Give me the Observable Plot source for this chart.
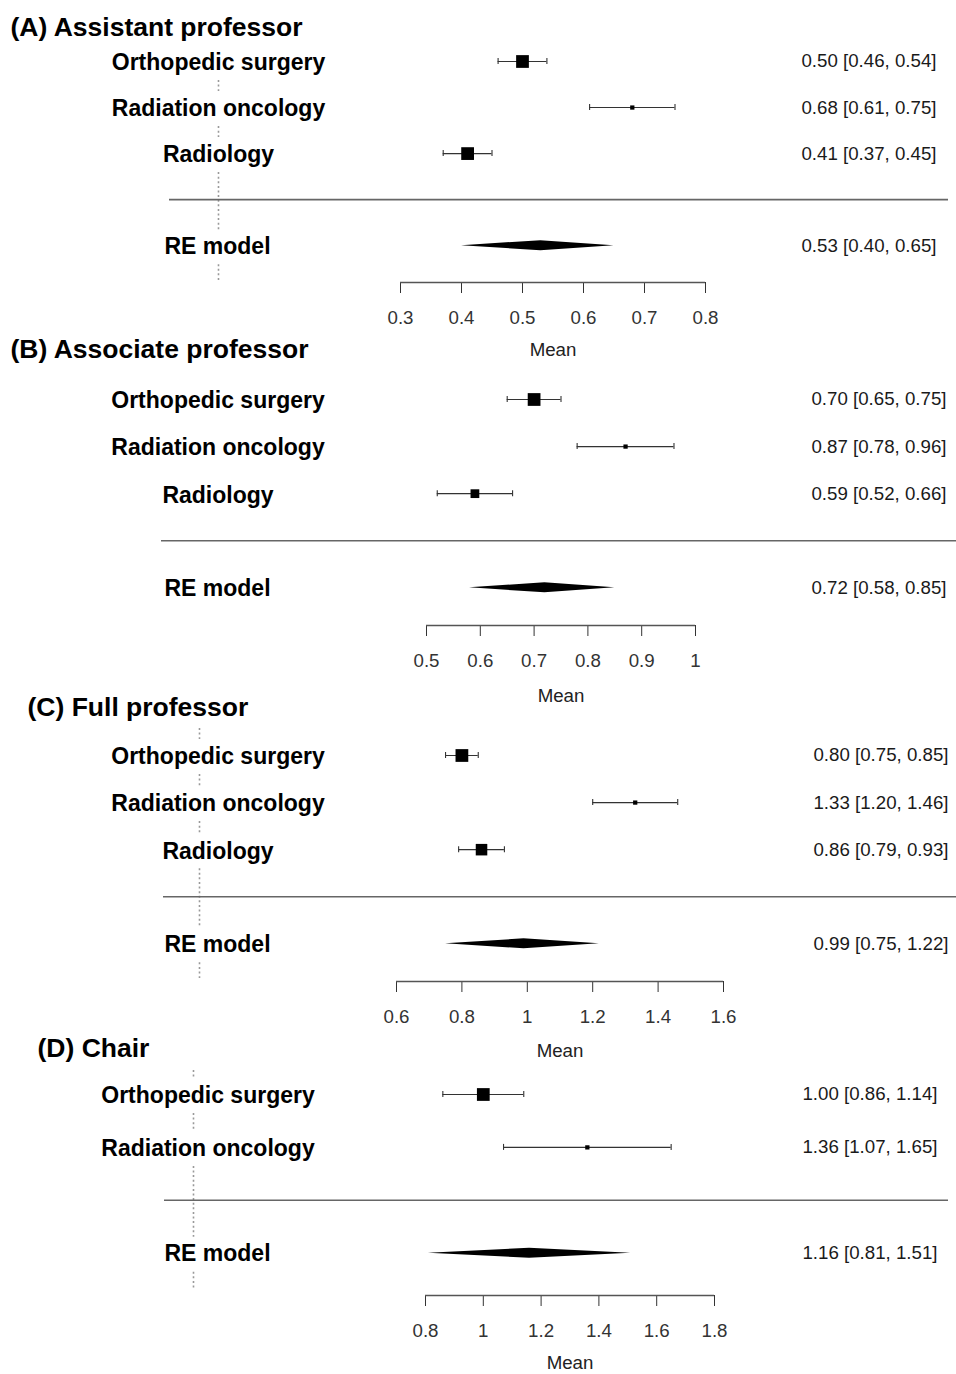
<!DOCTYPE html>
<html>
<head>
<meta charset="utf-8">
<script src="https://cdn.jsdelivr.net/npm/d3@7"></script>
<script src="https://cdn.jsdelivr.net/npm/@observablehq/plot@0.6"></script>
<style>
  html, body { margin: 0; padding: 0; background: #fff; overflow: hidden; }
  #chart { position: relative; width: 956px; height: 1374px; }
  #chart svg { position: absolute; left: 0; }
</style>
</head>
<body>
<div id="chart"></div>
<script>
// ---------- DATA ----------
const panelTitles = ["(A) Assistant professor", "(B) Associate professor", "(C) Full professor", "(D) Chair"];
const studiesABC = ["Orthopedic surgery", "Radiation oncology", "Radiology"];
const studiesD = ["Orthopedic surgery", "Radiation oncology"];
const summaryLabel = "RE model";
const axisLabel = "Mean";

const meanA = [0.50, 0.68, 0.41], lowerA = [0.46, 0.61, 0.37], upperA = [0.54, 0.75, 0.45];
const meanB = [0.70, 0.87, 0.59], lowerB = [0.65, 0.78, 0.52], upperB = [0.75, 0.96, 0.66];
const meanC = [0.80, 1.33, 0.86], lowerC = [0.75, 1.20, 0.79], upperC = [0.85, 1.46, 0.93];
const meanD = [1.00, 1.36],       lowerD = [0.86, 1.07],       upperD = [1.14, 1.65];

// random-effects study weights (%), estimated
const weightA = [34.0, 32.0, 34.0];
const weightB = [35.0, 31.6, 33.4];
const weightC = [34.4, 31.6, 34.0];
const weightD = [56.6, 43.4];

const reMean  = [0.53, 0.72, 0.99, 1.16];
const reLower = [0.40, 0.58, 0.75, 0.81];
const reUpper = [0.65, 0.85, 1.22, 1.51];

const ticksA = [0.3, 0.4, 0.5, 0.6, 0.7, 0.8];
const ticksB = [0.5, 0.6, 0.7, 0.8, 0.9, 1];
const ticksC = [0.6, 0.8, 1, 1.2, 1.4, 1.6];
const ticksD = [0.8, 1, 1.2, 1.4, 1.6, 1.8];

// ---------- LAYOUT (page pixels) ----------
const W = 956;
const layout = [
  {top: 0,    height: 366, titleX: 10, titleY: 27,   rowTopY: 61,   axisY: 282,  meanY: 350,  xLeft: 400, xRight: 705, labelX: 218,   reLabelX: 217, valueX: 936, sepX1: 169, sepX2: 948, dotX: 218, dotY1: 75,   dotY2: 280},
  {top: 330,  height: 380, titleX: 10, titleY: 349,  rowTopY: 399,  axisY: 625,  meanY: 696,  xLeft: 426, xRight: 695, labelX: 217.5, reLabelX: 217, valueX: 946, sepX1: 161, sepX2: 956, dotX: null},
  {top: 690,  height: 372, titleX: 27, titleY: 707,  rowTopY: 755,  axisY: 981,  meanY: 1051, xLeft: 396, xRight: 723, labelX: 217.5, reLabelX: 217, valueX: 948, sepX1: 163, sepX2: 956, dotX: 199, dotY1: 728,  dotY2: 978},
  {top: 1030, height: 344, titleX: 37, titleY: 1048, rowTopY: 1094, axisY: 1295, meanY: 1363, xLeft: 425, xRight: 714, labelX: 207.5, reLabelX: 217, valueX: 937, sepX1: 164, sepX2: 948, dotX: 193, dotY1: 1070, dotY2: 1290}
];

const FONT = "'Liberation Sans', Arial, Helvetica, sans-serif";
const fmt = d3.format(".2f");

function panel(i, studies, mean, lower, upper, weight, ticks) {
  const L = layout[i];
  const k = studies.length;
  const wMin = d3.min(weight), wMax = d3.max(weight);
  const rows = studies.map((s, j) => ({
    study: s, row: k - j, mean: mean[j], lower: lower[j], upper: upper[j],
    psize: 0.5 + (weight[j] - wMin) / (wMax - wMin)   // metafor-style box scaling
  }));
  const re = {row: -1, mean: reMean[i], lower: reLower[i], upper: reUpper[i]};
  const axisRow = -1.8;
  const rowPx = (L.axisY - L.rowTopY) / (k - axisRow);
  const pxToRow = py => k - (py - L.rowTopY) / rowPx;
  const dh = 5 / rowPx;
  const diamond = [
    {x: re.lower, y1: re.row, y2: re.row},
    {x: re.mean, y1: re.row - dh, y2: re.row + dh},
    {x: re.upper, y1: re.row, y2: re.row}
  ];
  const lo = ticks[0], hi = ticks[ticks.length - 1];
  const boxSide = 8.5;

  const marks = [];
  if (L.dotX != null) {
    // dotted reference line, interrupted where the row labels sit
    const labelRows = [...rows.map(d => d.row), re.row].sort((a, b) => b - a);
    const gaps = labelRows.map(r => [r + 16 / rowPx, r - 19 / rowPx]); // [upper, lower] in row units
    const segs = [];
    let cur = pxToRow(L.dotY1);
    const end = pxToRow(L.dotY2);
    for (const [gTop, gBot] of gaps) {
      if (gTop < cur) { if (gTop > end) segs.push({y1: cur, y2: Math.max(gTop, end)}); }
      cur = Math.min(cur, gBot);
    }
    if (cur > end) segs.push({y1: cur, y2: end});
    marks.push(Plot.ruleX(segs, {
      x: () => lo, dx: L.dotX - L.xLeft, y1: "y1", y2: "y2",
      stroke: "#999", strokeWidth: 1.6, strokeDasharray: "2,2.6"
    }));
  }
  marks.push(
    // separator
    Plot.ruleY([0], {insetLeft: L.sepX1 - L.xLeft, insetRight: L.xRight - L.sepX2, stroke: "#666", strokeWidth: 1.6}),
    // axis line
    Plot.ruleY([axisRow], {x1: lo, x2: hi, stroke: "#555", strokeWidth: 1.3}),
    // CI whiskers
    Plot.ruleY(rows, {y: "row", x1: "lower", x2: "upper", stroke: "#333", strokeWidth: 1.1}),
    Plot.ruleX(rows, {x: "lower", y1: "row", y2: "row", insetTop: -3, insetBottom: -3, stroke: "#333", strokeWidth: 1.1}),
    Plot.ruleX(rows, {x: "upper", y1: "row", y2: "row", insetTop: -3, insetBottom: -3, stroke: "#333", strokeWidth: 1.1}),
    // boxes
    Plot.dot(rows, {x: "mean", y: "row", symbol: "square", r: d => d.psize * boxSide / Math.sqrt(Math.PI), fill: "black", stroke: "none"}),
    // summary diamond
    Plot.areaY(diamond, {x: "x", y1: "y1", y2: "y2", fill: "black"}),
    // study labels
    Plot.text(rows, {
      y: "row", text: "study", frameAnchor: "left", dx: L.labelX - L.xLeft, dy: 1.5,
      textAnchor: "middle", fontWeight: "bold", fontSize: 23, fill: "black"
    }),
    Plot.text([re], {
      y: "row", text: () => summaryLabel, frameAnchor: "left", dx: L.reLabelX - L.xLeft, dy: 0.5,
      textAnchor: "middle", fontWeight: "bold", fontSize: 23, fill: "black"
    }),
    // estimate text
    Plot.text([...rows, re], {
      y: "row", text: d => `${fmt(d.mean)} [${fmt(d.lower)}, ${fmt(d.upper)}]`,
      frameAnchor: "right", dx: L.valueX - L.xRight, textAnchor: "end", fontSize: 18.7, fill: "#1a1a1a"
    }),
    // axis title
    Plot.text([axisLabel], {x: () => (lo + hi) / 2, y: () => axisRow, dy: L.meanY - L.axisY, fontSize: 18.7, fill: "#222"}),
    // panel title
    Plot.text([panelTitles[i]], {
      frameAnchor: "top-left", dx: L.titleX - L.xLeft, dy: L.titleY - L.rowTopY,
      textAnchor: "start", lineAnchor: "middle", fontWeight: "bold", fontSize: 26.5, fill: "black"
    })
  );

  const svg = Plot.plot({
    width: W,
    height: L.height,
    marginLeft: L.xLeft,
    marginRight: W - L.xRight,
    marginTop: L.rowTopY - L.top,
    marginBottom: L.top + L.height - L.axisY,
    x: {domain: [lo, hi], ticks: ticks, tickSize: 11, tickPadding: 17, tickFormat: d => String(d), label: null},
    y: {domain: [axisRow, k], axis: null},
    r: {type: "identity"},
    style: {background: "none", fontFamily: FONT, fontSize: "18.7px", color: "#333", overflow: "visible"},
    marks
  });
  svg.style.top = L.top + "px";
  return svg;
}

const chart = document.getElementById("chart");
chart.appendChild(panel(0, studiesABC, meanA, lowerA, upperA, weightA, ticksA));
chart.appendChild(panel(1, studiesABC, meanB, lowerB, upperB, weightB, ticksB));
chart.appendChild(panel(2, studiesABC, meanC, lowerC, upperC, weightC, ticksC));
chart.appendChild(panel(3, studiesD, meanD, lowerD, upperD, weightD, ticksD));
</script>
</body>
</html>
